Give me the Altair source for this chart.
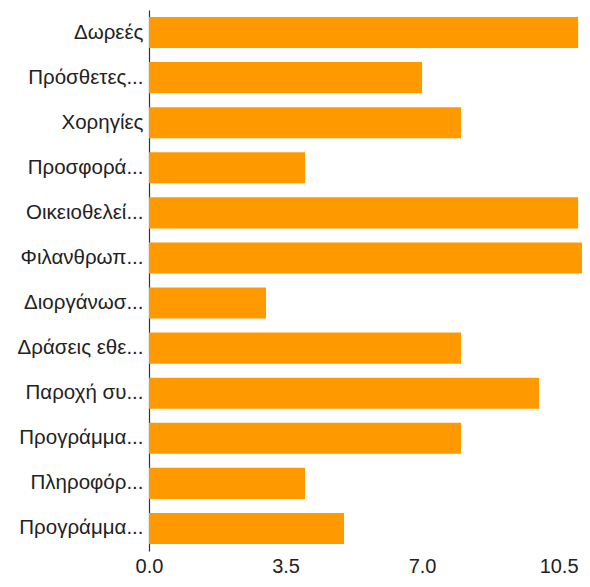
import altair as alt
import pandas as pd

labels = ["Δωρεές", "Πρόσθετες...", "Χορηγίες", "Προσφορά...", "Οικειοθελεί...",
          "Φιλανθρωπ...", "Διοργάνωσ...", "Δράσεις εθε...", "Παροχή συ...",
          "Προγράμμα...", "Πληροφόρ...", "Προγράμμα..."]
values = [11, 7, 8, 4, 11, 12, 3, 8, 10, 8, 4, 5]
tick_values = [0, 3.5, 7, 10.5]

df = pd.DataFrame({"idx": list(range(len(labels))), "label": labels, "value": values})

label_js = "[" + ",".join("'" + l + "'" for l in labels) + "]"

chart = alt.Chart(df).mark_bar(color="#ff9900", clip=True).encode(
    y=alt.Y("idx:O", sort=None,
            scale=alt.Scale(paddingInner=0.31, paddingOuter=0.155),
            axis=alt.Axis(title=None, labelExpr=label_js + "[datum.value]",
                          ticks=False, domain=True, domainColor="#333333", domainWidth=1.2,
                          labelColor="#222222", labelFont="Liberation Sans", labelFontSize=20.5,
                          labelPadding=6, labelLimit=200)),
    x=alt.X("value:Q",
            scale=alt.Scale(domain=[0, 11.1], nice=False, zero=True),
            axis=alt.Axis(title=None, values=tick_values, format=".1f", grid=False,
                          ticks=False, domain=False, labelColor="#222222",
                          labelFont="Liberation Sans", labelFontSize=20, labelPadding=5,
                          labelFlush=False)),
).properties(
    width=433, height=541,
    autosize=alt.AutoSizeParams(type="none"),
    padding={"left": 141, "top": 2, "right": 0, "bottom": 28},
).configure_view(stroke=None)

chart.save("out.html", embed_options={"renderer": "svg", "actions": False})
